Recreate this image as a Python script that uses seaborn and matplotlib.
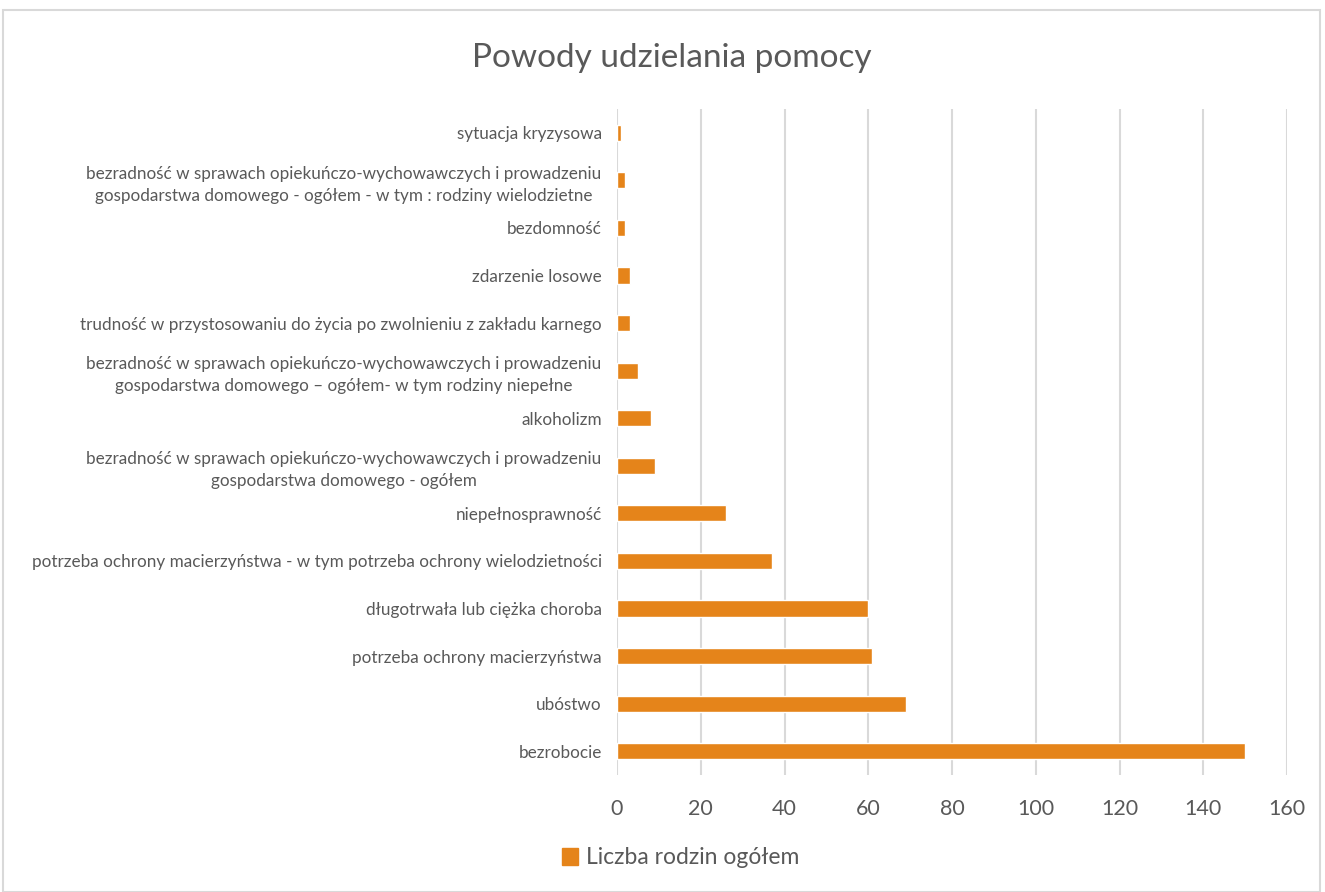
import matplotlib
matplotlib.use("Agg")
import matplotlib.pyplot as plt
import seaborn as sns
import pandas as pd
from matplotlib.patches import Rectangle, Patch

categories = [
    "sytuacja kryzysowa",
    "bezradność w sprawach opiekuńczo-wychowawczych i prowadzeniu\ngospodarstwa domowego - ogółem - w tym : rodziny wielodzietne",
    "bezdomność",
    "zdarzenie losowe",
    "trudność w przystosowaniu do życia po zwolnieniu z zakładu karnego",
    "bezradność w sprawach opiekuńczo-wychowawczych i prowadzeniu\ngospodarstwa domowego – ogółem- w tym rodziny niepełne",
    "alkoholizm",
    "bezradność w sprawach opiekuńczo-wychowawczych i prowadzeniu\ngospodarstwa domowego - ogółem",
    "niepełnosprawność",
    "potrzeba ochrony macierzyństwa - w tym potrzeba ochrony wielodzietności",
    "długotrwała lub ciężka choroba",
    "potrzeba ochrony macierzyństwa",
    "ubóstwo",
    "bezrobocie",
]
values = [1, 2, 2, 3, 3, 5, 8, 9, 26, 37, 60, 61, 69, 150]
series_name = "Liczba rodzin ogółem"
xticks = [0, 20, 40, 60, 80, 100, 120, 140, 160]

sns.set_theme(style="white")
plt.rcParams['font.family'] = ['Lato', 'DejaVu Sans']

df = pd.DataFrame({"powod": categories, "liczba": values})

fig = plt.figure(figsize=(13.25, 8.92), dpi=100)
ax = fig.add_axes([617/1325, 1-775/892, (1287-617)/1325, (775-109)/892])

bar_color = "#E5841A"
sns.barplot(data=df, x="liczba", y="powod", order=categories, color=bar_color,
            saturation=1, width=0.34, ax=ax, zorder=3)

ax.set_xlim(0, 160)
ax.set_xticks(xticks)
ax.set_xticklabels([str(t) for t in xticks])
ax.grid(axis="x", color="#d9d9d9", linewidth=1.5, zorder=0)
ax.grid(axis="y", visible=False)
for s in ["top", "right", "bottom", "left"]:
    ax.spines[s].set_visible(False)
ax.set_xlabel("")
ax.set_ylabel("")
ax.tick_params(axis="x", length=0, pad=17, labelsize=15.5, labelcolor="#595959")
ax.tick_params(axis="y", length=0, pad=11, labelsize=12.3, labelcolor="#595959")
for lab in ax.get_yticklabels():
    lab.set_multialignment("center")
    lab.set_linespacing(1.45)

fig.text(672/1325, 1-58/892, "Powody udzielania pomocy", ha="center", va="center",
         fontsize=24, color="#595959")

handle = Patch(facecolor=bar_color, edgecolor=bar_color)
fig.legend([handle], [series_name], loc="center", bbox_to_anchor=(681/1325, 1-858/892),
           frameon=False, fontsize=16.5, labelcolor="#595959", handlelength=0.7,
           handleheight=0.7, handletextpad=0.35)

fig.patches.append(Rectangle((3/1325, 0), 1317/1325, 1-10/892, transform=fig.transFigure,
                             fill=False, edgecolor="#d9d9d9", linewidth=1.5))

fig.savefig("out.png", dpi=100, facecolor="white")
